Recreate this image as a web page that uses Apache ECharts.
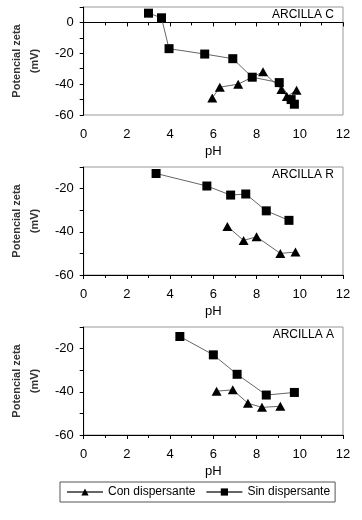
<!DOCTYPE html>
<html>
<head>
<meta charset="utf-8">
<script src="https://cdn.jsdelivr.net/npm/echarts@6/dist/echarts.min.js"></script>
<style>
  html, body { margin: 0; padding: 0; background: #fff; }
  #main { width: 362px; height: 520px; }
</style>
</head>
<body>
<div id="main"></div>
<script>
// ARCILLA C
var conC = [[5.95, -49], [6.3, -42], [7.15, -40], [8.3, -32], [9.15, -43.5], [9.4, -48], [9.85, -44]];
var sinC = [[3.0, 6], [3.6, 3], [3.95, -17], [5.6, -20.5], [6.9, -23.5], [7.8, -35.5], [9.05, -39], [9.6, -50], [9.75, -53]];
// ARCILLA R
var conR = [[6.65, -37.5], [7.4, -44], [8.0, -42.3], [9.1, -50], [9.8, -49.4]];
var sinR = [[3.35, -13], [5.7, -18.8], [6.8, -23], [7.5, -22.5], [8.45, -30.3], [9.5, -34.7]];
// ARCILLA A
var conA = [[6.15, -39.7], [6.9, -39.1], [7.6, -45.3], [8.25, -47.2], [9.1, -46.7]];
var sinA = [[4.45, -14.4], [6.0, -22.9], [7.1, -31.9], [8.45, -41.5], [9.75, -40.3]];

var panels = [
    {name: 'ARCILLA C', con: conC, sin: sinC, ymax: 10, top: 7},
    {name: 'ARCILLA R', con: conR, sin: sinR, ymax: -10, top: 167},
    {name: 'ARCILLA A', con: conA, sin: sinA, ymax: -10, top: 327}
];
var plotH = 108;

var myChart = echarts.init(document.getElementById('main'));
var grid = [], xAxis = [], yAxis = [], series = [], graphic = [];

panels.forEach(function (p, i) {
    grid.push({left: 77, width: 266, top: p.top, height: plotH,
        show: true, borderColor: '#999', borderWidth: 1, backgroundColor: 'transparent'});
    xAxis.push({
        gridIndex: i, type: 'value', min: 0, max: 12, interval: 2,
        name: 'pH', nameLocation: 'middle', nameGap: 30,
        nameTextStyle: {color: '#000', fontSize: 13, fontFamily: 'Liberation Sans'},
        axisLine: {lineStyle: {color: '#000', width: 1}},
        axisTick: {show: true, length: 4, lineStyle: {color: '#000'}},
        minorTick: {show: true, splitNumber: 2, length: 3, lineStyle: {color: '#000'}},
        splitLine: {show: false},
        axisLabel: {color: '#000', fontSize: 13, fontFamily: 'Liberation Sans', margin: 13}
    });
    yAxis.push({
        gridIndex: i, type: 'value', min: -60, max: p.ymax, interval: 10,
        name: 'Potencial zeta\n(mV)', nameLocation: 'middle', nameRotate: 90, nameGap: 38,
        nameTextStyle: {color: '#333', fontSize: 11, fontFamily: 'Liberation Sans', fontWeight: 'bold', lineHeight: 18},
        axisLine: {show: true, lineStyle: {color: '#000', width: 1}},
        axisTick: {show: true, length: 4, lineStyle: {color: '#000'}},
        splitLine: {show: false},
        axisLabel: {color: '#000', fontSize: 13, fontFamily: 'Liberation Sans', margin: 10,
            formatter: function (v) { return v % 20 === 0 ? String(v) : ''; }}
    });
    series.push({
        name: 'Con dispersante', type: 'line', xAxisIndex: i, yAxisIndex: i,
        data: p.con, symbol: 'triangle', symbolSize: [10, 9],
        itemStyle: {color: '#000'}, lineStyle: {color: '#666', width: 1},
        animation: false
    });
    series.push({
        name: 'Sin dispersante', type: 'line', xAxisIndex: i, yAxisIndex: i,
        data: p.sin, symbol: 'rect', symbolSize: 9,
        itemStyle: {color: '#000'}, lineStyle: {color: '#666', width: 1},
        animation: false
    });
    graphic.push({
        type: 'text', right: 28, top: p.top + 2,
        style: {text: p.name, fill: '#000', font: '12px "Liberation Sans"'}
    });
});

var option = {
    backgroundColor: '#fff',
    animation: false,
    grid: grid,
    xAxis: xAxis,
    yAxis: yAxis,
    series: series,
    graphic: graphic,
    legend: {
        data: ['Con dispersante', 'Sin dispersante'],
        orient: 'horizontal', left: 60, top: 482,
        borderColor: '#555', borderWidth: 1, padding: [4, 5, 4, 6],
        itemWidth: 36, itemHeight: 9, itemGap: 10,
        textStyle: {color: '#000', fontSize: 12, fontFamily: 'Liberation Sans'}
    }
};
myChart.setOption(option);
</script>
</body>
</html>
